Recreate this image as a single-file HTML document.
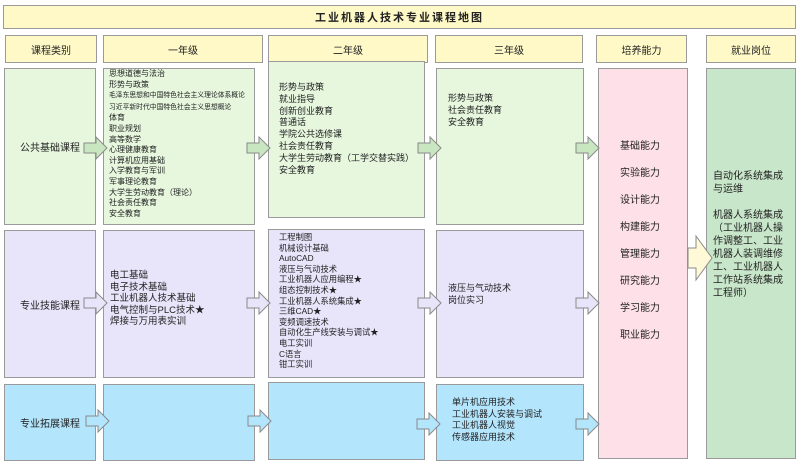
<!DOCTYPE html>
<html><head><meta charset="utf-8"><style>
body{margin:0;width:799px;height:466px;background:#fff;position:relative;overflow:hidden;font-family:"Liberation Sans","Noto Sans CJK SC",sans-serif;color:#222}
.b{position:absolute;box-sizing:border-box;border:1px solid #9a9a9a}
.y{background:#fff9c8}.g{background:#e6f7de}.p{background:#e8e4fa}.c{background:#b3e5fc}.k{background:#fde0e8}.j{background:#c8e6c9}
.h{display:flex;align-items:center;justify-content:center;font-size:10px}
.t{position:absolute;font-size:8.5px;line-height:11.8px;white-space:nowrap}
svg{position:absolute;left:0;top:0}
</style></head><body>
<div class="b y h" style="left:3px;top:5px;width:793px;height:24px;font-weight:bold;font-size:11px;letter-spacing:2px">工业机器人技术专业课程地图</div>
<div class="b y h" style="left:5px;top:35px;width:92px;height:28px">课程类别</div>
<div class="b y h" style="left:103px;top:35px;width:160px;height:28px">一年级</div>
<div class="b y h" style="left:268px;top:35px;width:160px;height:28px">二年级</div>
<div class="b y h" style="left:435px;top:35px;width:148px;height:28px">三年级</div>
<div class="b y h" style="left:596px;top:35px;width:91px;height:28px">培养能力</div>
<div class="b y h" style="left:706px;top:35px;width:90px;height:28px">就业岗位</div>

<div class="b g h" style="left:4px;top:68px;width:92px;height:157px">公共基础课程</div>
<div class="b g" style="left:103px;top:68px;width:152px;height:157px"></div>
<div class="b g" style="left:268px;top:61px;width:157px;height:157px"></div>
<div class="b g" style="left:436px;top:68px;width:148px;height:157px"></div>

<div class="b p h" style="left:4px;top:230px;width:92px;height:148px">专业技能课程</div>
<div class="b p" style="left:103px;top:230px;width:152px;height:148px"></div>
<div class="b p" style="left:268px;top:229px;width:157px;height:149px"></div>
<div class="b p" style="left:436px;top:230px;width:148px;height:148px"></div>

<div class="b c h" style="left:4px;top:384px;width:92px;height:77px">专业拓展课程</div>
<div class="b c" style="left:103px;top:384px;width:152px;height:77px"></div>
<div class="b c" style="left:268px;top:382px;width:157px;height:78px"></div>
<div class="b c" style="left:436px;top:384px;width:148px;height:77px"></div>

<div class="b k" style="left:598px;top:68px;width:90px;height:391px"></div>
<div class="b j" style="left:706px;top:68px;width:90px;height:391px"></div>

<div class="t" style="left:109px;top:69px;font-size:8px;line-height:10.6px">思想道德与法治<br>形势与政策<br><span style="font-size:6.8px">毛泽东思想和中国特色社会主义理论体系概论</span><br><span style="font-size:6.8px">习近平新时代中国特色社会主义思想概论</span><br>体育<br>职业规划<br>高等数学<br>心理健康教育<br>计算机应用基础<br>入学教育与军训<br>军事理论教育<br>大学生劳动教育（理论）<br>社会责任教育<br>安全教育</div>
<div class="t" style="left:279px;top:82px;font-size:9px;line-height:11.8px">形势与政策<br>就业指导<br>创新创业教育<br>普通话<br>学院公共选修课<br>社会责任教育<br>大学生劳动教育（工学交替实践）<br>安全教育</div>
<div class="t" style="left:448px;top:93px;font-size:9px;line-height:11.8px">形势与政策<br>社会责任教育<br>安全教育</div>
<div class="t" style="left:110px;top:270px;font-size:9.5px;line-height:11.5px">电工基础<br>电子技术基础<br>工业机器人技术基础<br>电气控制与PLC技术★<br>焊接与万用表实训</div>
<div class="t" style="left:279px;top:232px;font-size:8.3px;line-height:10.6px">工程制图<br>机械设计基础<br>AutoCAD<br>液压与气动技术<br>工业机器人应用编程★<br>组态控制技术★<br>工业机器人系统集成★<br>三维CAD★<br>变频调速技术<br>自动化生产线安装与调试★<br>电工实训<br>C语言<br>钳工实训</div>
<div class="t" style="left:448px;top:282px;font-size:9px;line-height:12px">液压与气动技术<br>岗位实习</div>
<div class="t" style="left:452px;top:397px;font-size:9px;line-height:11.7px">单片机应用技术<br>工业机器人安装与调试<br>工业机器人视觉<br>传感器应用技术</div>
<div class="t" style="left:620px;top:133px;font-size:10px;line-height:27px">基础能力<br>实验能力<br>设计能力<br>构建能力<br>管理能力<br>研究能力<br>学习能力<br>职业能力</div>
<div class="t" style="left:713px;top:170px;font-size:10px;line-height:13px;white-space:normal;width:74px">自动化系统集成与运维<br><br>机器人系统集成（工业机器人操作调整工、工业机器人装调维修工、工业机器人工作站系统集成工程师）</div>

<svg width="799" height="466">
<defs><g id="ar"><path d="M0,-5 H12 V-11 L23,0 L12,11 V5 H0 Z"/></g></defs>
<g stroke="#8a8a8a" stroke-width="1">
<use href="#ar" x="84" y="148" fill="#c8e6c0"/>
<use href="#ar" x="247" y="148" fill="#c8e6c0"/>
<use href="#ar" x="418" y="148" fill="#c8e6c0"/>
<use href="#ar" x="576" y="148" fill="#c8e6c0"/>
<use href="#ar" x="84" y="303" fill="#e8e4fa"/>
<use href="#ar" x="247" y="303" fill="#e8e4fa"/>
<use href="#ar" x="418" y="303" fill="#e8e4fa"/>
<use href="#ar" x="576" y="303" fill="#e8e4fa"/>
<use href="#ar" x="86" y="421" fill="#b3e5fc"/>
<use href="#ar" x="248" y="421" fill="#b3e5fc"/>
<use href="#ar" x="417" y="424" fill="#b3e5fc"/>
<use href="#ar" x="576" y="424" fill="#b3e5fc"/>
<path d="M688,248 H696 V236 L712,258 L696,280 V268 H688 Z" fill="#fff9d8"/>
</g>
</svg>
</body></html>
